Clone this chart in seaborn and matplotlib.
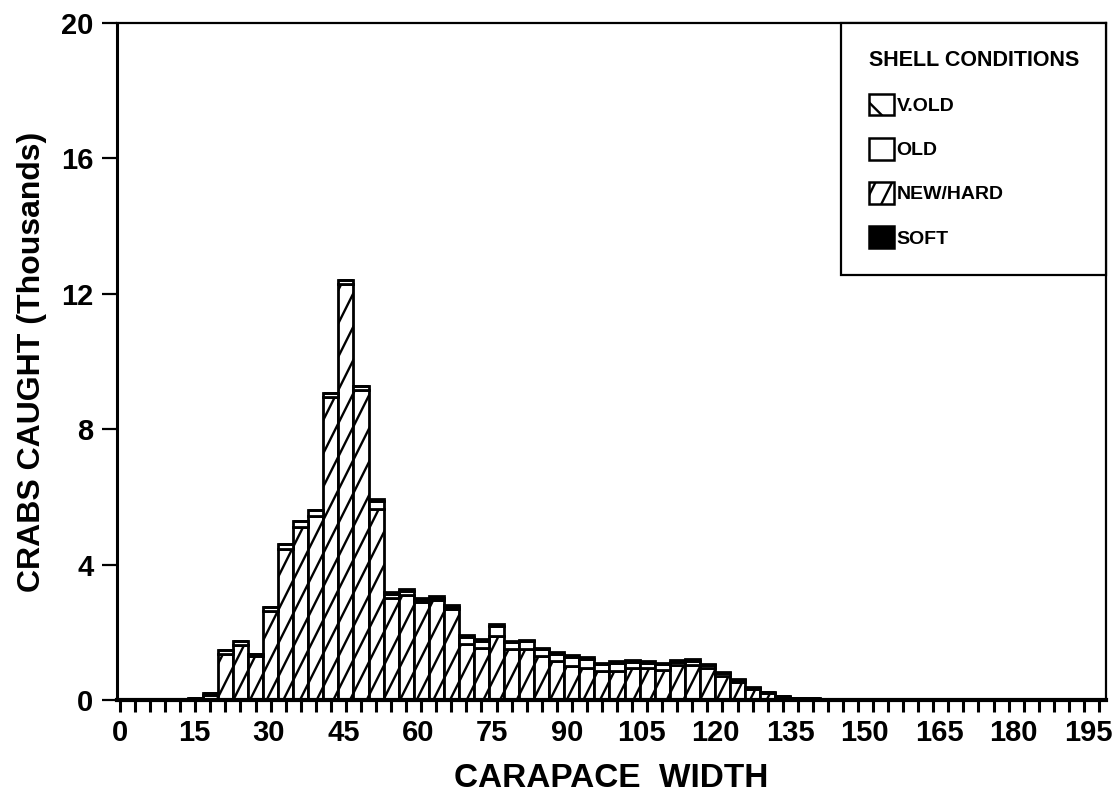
import numpy as np
import pandas as pd
import matplotlib
matplotlib.use("Agg")
import matplotlib.pyplot as plt
import matplotlib.hatch as mhatch
import matplotlib.transforms as mtrans
from matplotlib.path import Path
from matplotlib.patches import Patch
from matplotlib.colors import to_hex
from matplotlib.ticker import MultipleLocator
import seaborn as sns

# ---------------- data (thousands of crabs per 3-unit carapace width bin) ----------------
centers = [15, 18, 21, 24, 27, 30, 33, 36, 39, 42, 45, 48, 51, 54, 57, 60, 63, 66,
           69, 72, 75, 78, 81, 84, 87, 90, 93, 96, 99, 102, 105, 108, 111, 114, 117,
           120, 123, 126, 129, 132, 135, 138, 141, 144, 147]
soft = [0, 0, 0, 0, 0, 0, 0, 0, 0, 0, 0, 0, 0, 0, 0, 0, 0, 0,
        0, 0, 0, 0, 0, 0, 0, 0, 0, 0, 0, 0, 0, 0, 0, 0, 0,
        0, 0.03, 0.03, 0.03, 0.02, 0.01, 0, 0, 0, 0]
new_hard = [0.04, 0.15, 1.37, 1.63, 1.30, 2.64, 4.45, 5.10, 5.45, 8.95, 12.30, 9.15,
            5.65, 3.00, 3.10, 2.88, 2.95, 2.68, 1.65, 1.55, 1.90, 1.50, 1.50, 1.30,
            1.15, 1.00, 0.95, 0.85, 0.85, 0.95, 0.95, 0.90, 1.02, 1.03, 0.93,
            0.70, 0.50, 0.28, 0.17, 0.08, 0.04, 0.03, 0.02, 0.01, 0.0]
old = [0.01, 0.05, 0.11, 0.10, 0.07, 0.10, 0.15, 0.20, 0.15, 0.11, 0.12, 0.12,
       0.23, 0.13, 0.13, 0.07, 0.07, 0.07, 0.22, 0.20, 0.30, 0.20, 0.23, 0.20,
       0.22, 0.27, 0.27, 0.20, 0.25, 0.18, 0.15, 0.15, 0.11, 0.12, 0.09,
       0.09, 0.06, 0.05, 0.04, 0.03, 0.02, 0.02, 0.01, 0.01, 0.01]
v_old = [0, 0, 0, 0, 0, 0, 0, 0, 0, 0, 0, 0,
         0.05, 0.05, 0.05, 0.05, 0.05, 0.05, 0.05, 0.05, 0.05, 0.05, 0.05, 0.05,
         0.05, 0.05, 0.05, 0.05, 0.05, 0.05, 0.05, 0.05, 0.05, 0.05, 0.05,
         0.04, 0.03, 0.02, 0.01, 0, 0, 0, 0, 0, 0]
conditions = ["V.OLD", "OLD", "NEW/HARD", "SOFT"]
x_tick_values = list(range(0, 196, 15))
y_tick_values = [0, 4, 8, 12, 16, 20]

series = {"V.OLD": v_old, "OLD": old, "NEW/HARD": new_hard, "SOFT": soft}
df = pd.concat(
    [pd.DataFrame({"width": centers, "count": vals, "condition": name})
     for name, vals in series.items()],
    ignore_index=True,
)


# ---------------- steeper, sparser "/" hatch like the original print ----------------
class SteepHatch(mhatch.HatchPatternBase):
    def __init__(self, hatch, density):
        n = hatch.count("/")
        self.offsets = np.arange(-3, 7) / 6.0 if n else np.array([])
        self.num_vertices = 2 * len(self.offsets)

    def set_vertices_and_codes(self, vertices, codes):
        a = self.offsets
        vertices[0::2, 0] = a
        vertices[0::2, 1] = 0.0
        vertices[1::2, 0] = a + 0.5
        vertices[1::2, 1] = 1.0
        codes[0::2] = Path.MOVETO
        codes[1::2] = Path.LINETO


mhatch._hatch_types[mhatch._hatch_types.index(mhatch.NorthEastHatch)] = SteepHatch

# ---------------- style ----------------
sns.set_style("white")
plt.rcParams["font.family"] = ["Liberation Sans", "DejaVu Sans"]
plt.rcParams["font.weight"] = "bold"
plt.rcParams["hatch.linewidth"] = 1.7
for key in ["axes.edgecolor", "text.color", "axes.labelcolor", "xtick.color", "ytick.color"]:
    plt.rcParams[key] = "black"

fig = plt.figure(figsize=(11.12, 8.11), dpi=100)
ax = fig.add_axes([0.1052, 0.1369, 0.8894, 0.8347])

key_colors = {"V.OLD": "#ff0000", "OLD": "#00ff00", "NEW/HARD": "#0000ff", "SOFT": "#000000"}
sns.histplot(
    data=df, x="width", weights="count", hue="condition", hue_order=conditions,
    multiple="stack", binwidth=3, binrange=(13.5, 148.5), palette=key_colors,
    alpha=1, edgecolor="black", linewidth=2.0, legend=False, ax=ax,
)

style = {
    "#ff0000": ("white", "\\\\"),
    "#00ff00": ("white", ""),
    "#0000ff": ("white", "/"),
    "#000000": ("black", ""),
}
for p in ax.patches:
    fc = to_hex(p.get_facecolor()[:3])
    if fc in style:
        face, hatch = style[fc]
        p.set_alpha(1)
        p.set_facecolor(face)
        p.set_hatch(hatch)
        p.set_edgecolor("black")

# ---------------- axes ----------------
ax.set_xlim(-0.6, 196.4)
ax.set_ylim(0, 20)
ax.set_xticks(x_tick_values)
ax.xaxis.set_minor_locator(MultipleLocator(3))
ax.set_yticks(y_tick_values)
ax.tick_params(axis="x", which="both", direction="out", length=8.5, width=2.2,
               bottom=True, pad=5, labelsize=21, color="black")
ax.tick_params(axis="y", which="major", direction="out", length=11, width=1.6,
               left=True, pad=6, labelsize=21, color="black")
for lab in ax.get_xticklabels() + ax.get_yticklabels():
    lab.set_fontweight("bold")
# the printed labels drift slightly left of their ticks towards the right end
for val, lab in zip(x_tick_values, ax.get_xticklabels()):
    lab.set_transform(lab.get_transform()
                      + mtrans.ScaledTranslation(-val / 195 * 0.11, 0, fig.dpi_scale_trans))

for side in ["left", "right", "top", "bottom"]:
    ax.spines[side].set_visible(True)
    ax.spines[side].set_color("black")
ax.spines["left"].set_linewidth(2.2)
ax.spines["bottom"].set_linewidth(3.0)
ax.spines["top"].set_linewidth(1.6)
ax.spines["right"].set_linewidth(1.6)

ax.set_xlabel("CARAPACE  WIDTH", fontsize=24, fontweight="bold", labelpad=12)
ax.set_ylabel("CRABS CAUGHT (Thousands)", fontsize=23, fontweight="bold", labelpad=10)

# ---------------- legend ----------------
handles = [
    Patch(facecolor="white", edgecolor="black", hatch="\\", linewidth=1.8),
    Patch(facecolor="white", edgecolor="black", linewidth=1.8),
    Patch(facecolor="white", edgecolor="black", hatch="/", linewidth=1.8),
    Patch(facecolor="black", edgecolor="black", linewidth=1.8),
]
leg = ax.legend(
    handles, conditions, title="SHELL CONDITIONS", loc="upper right",
    bbox_to_anchor=(1.0, 1.0), borderaxespad=0, frameon=True, fancybox=False,
    edgecolor="black", framealpha=1, prop={"weight": "bold", "size": 14},
    title_fontproperties={"weight": "bold", "size": 15.5}, alignment="left",
    handlelength=1.3, handleheight=1.35, handletextpad=0.15, labelspacing=1.15,
    borderpad=1.4,
)
leg.get_frame().set_linewidth(1.6)

fig.savefig("out.png", dpi=100)
